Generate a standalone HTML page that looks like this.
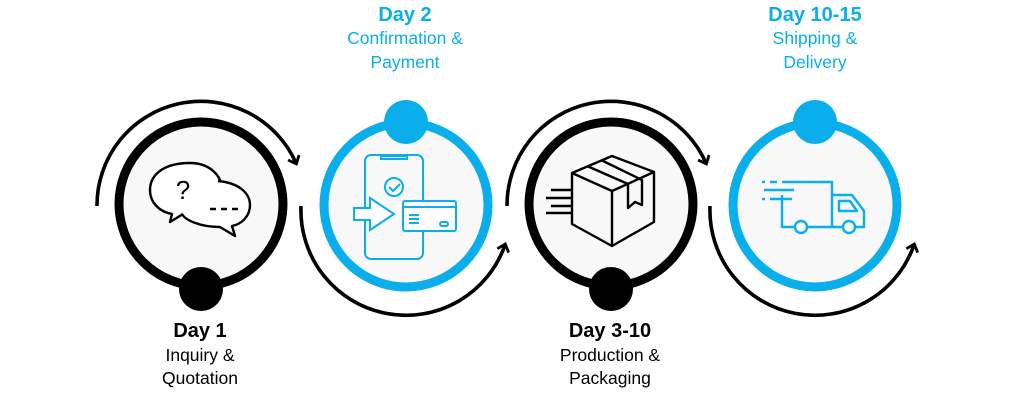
<!DOCTYPE html>
<html><head><meta charset="utf-8"><style>
html,body{margin:0;padding:0;background:#fff;}
svg{display:block;}
text{font-family:"Liberation Sans",Arial,sans-serif;text-anchor:middle;}
.d{font-weight:bold;font-size:20px;}
.s{font-size:17.5px;}
</style></head><body>
<svg width="1024" height="410" viewBox="0 0 1024 410" xmlns="http://www.w3.org/2000/svg">
<defs>
<marker id="ah" markerWidth="14" markerHeight="14" refX="7" refY="7" orient="auto" markerUnits="userSpaceOnUse">
<path d="M1,1 L8,7 L1,13" fill="none" stroke="#000" stroke-width="2.8"/>
</marker>
</defs>
<circle cx="201" cy="204" r="82" fill="#f8f8f8" stroke="#000" stroke-width="9"/>
<circle cx="406" cy="205" r="82" fill="#f8f8f8" stroke="#0aaeea" stroke-width="9"/>
<circle cx="611" cy="204" r="82" fill="#f8f8f8" stroke="#000" stroke-width="9"/>
<circle cx="815" cy="205" r="82" fill="#f8f8f8" stroke="#0aaeea" stroke-width="9"/>
<circle cx="201" cy="289" r="22" fill="#000"/>
<circle cx="406" cy="122" r="22" fill="#0aaeea"/>
<circle cx="611" cy="289" r="22" fill="#000"/>
<circle cx="815" cy="122" r="22" fill="#0aaeea"/>
<g fill="none" stroke="#000" stroke-width="3.6">
<path d="M97,206 A104,104 0 0 1 296,163" marker-end="url(#ah)"/>
<path d="M301,206 A105,105 0 0 0 505,245" marker-end="url(#ah)"/>
<path d="M507,206 A104,104 0 0 1 706,163" marker-end="url(#ah)"/>
<path d="M710,206 A105,105 0 0 0 914,245" marker-end="url(#ah)"/>
</g>
<g fill="none" stroke="#000" stroke-width="2.4" stroke-linejoin="round">
<path d="M190,163 C162,163 150,176 150,190 C150,203 160,212 172,214 L170,222 L183,214 C212,214 222,202 222,190 C222,176 210,163 190,163 Z" fill="#fff"/>
<path d="M218,181 C240,183 250,194 250,205 C250,216 242,224 232,226 L235,236 L220,227 C200,227 185,220 182,214" fill="#fff"/>
<text x="183" y="199" style="font-size:26px;font-family:'Liberation Sans';" fill="#000" stroke="none">?</text>
<path d="M210,209 h6 M221,209 h6 M232,209 h6"/>
</g>
<g fill="none" stroke="#0aaeea" stroke-width="2">
<rect x="365" y="155" width="58" height="104" rx="6"/>
<path d="M381,156 h26 v3 h-26z"/>
<circle cx="394" cy="187" r="9"/>
<path d="M389,187 l4,4 l7,-7"/>
<path d="M354,208 h16 v-10 l24,16 l-24,16 v-10 h-16z" fill="#fff"/>
<rect x="403" y="201" width="53" height="30" rx="2" fill="#fff"/>
<path d="M403,207 h53 M409,215 h10 M409,219 h10 M409,223 h10"/>
<rect x="440" y="222" width="8" height="4" rx="2"/>
</g>
<g fill="none" stroke="#000" stroke-width="2.4" stroke-linejoin="round">
<path d="M572,173 L612,156 L654,172 L654,222 L612,246 L572,224 Z"/>
<path d="M572,173 L612,191 L654,172 M612,191 L612,246"/>
<path d="M587,166 L628,184 L628,208 L635,202 L642,205 L642,180 L601,160"/>
<path d="M551,190 h20 M546,198 h25 M551,206 h20 M546,213 h25"/>
</g>
<g fill="none" stroke="#0aaeea" stroke-width="2.4" stroke-linejoin="round">
<path d="M782,182 h50 v45 h-50 v-32"/>
<path d="M832,195 h20 l12,16 v16 h-32"/>
<path d="M839,201 h11 l7,10 h-18z"/>
<circle cx="801" cy="227" r="6" fill="#fff"/>
<circle cx="849" cy="227" r="6" fill="#fff"/>
<path d="M762,182 h3 M770,182 h7 M764,190 h30 M762,199 h3 M770,199 h22"/>
</g>
<text class="d" x="200" y="337" fill="#000">Day 1</text>
<text class="s" x="200" y="361" fill="#000">Inquiry &amp;</text>
<text class="s" x="200" y="384" fill="#000">Quotation</text>
<text class="d" x="405" y="21" fill="#0aaeea">Day 2</text>
<text class="s" x="405" y="44" fill="#0aaeea">Confirmation &amp;</text>
<text class="s" x="405" y="68" fill="#0aaeea">Payment</text>
<text class="d" x="610" y="337" fill="#000">Day 3-10</text>
<text class="s" x="610" y="361" fill="#000">Production &amp;</text>
<text class="s" x="610" y="384" fill="#000">Packaging</text>
<text class="d" x="815" y="21" fill="#0aaeea">Day 10-15</text>
<text class="s" x="815" y="44" fill="#0aaeea">Shipping &amp;</text>
<text class="s" x="815" y="68" fill="#0aaeea">Delivery</text>
</svg>
</body></html>
